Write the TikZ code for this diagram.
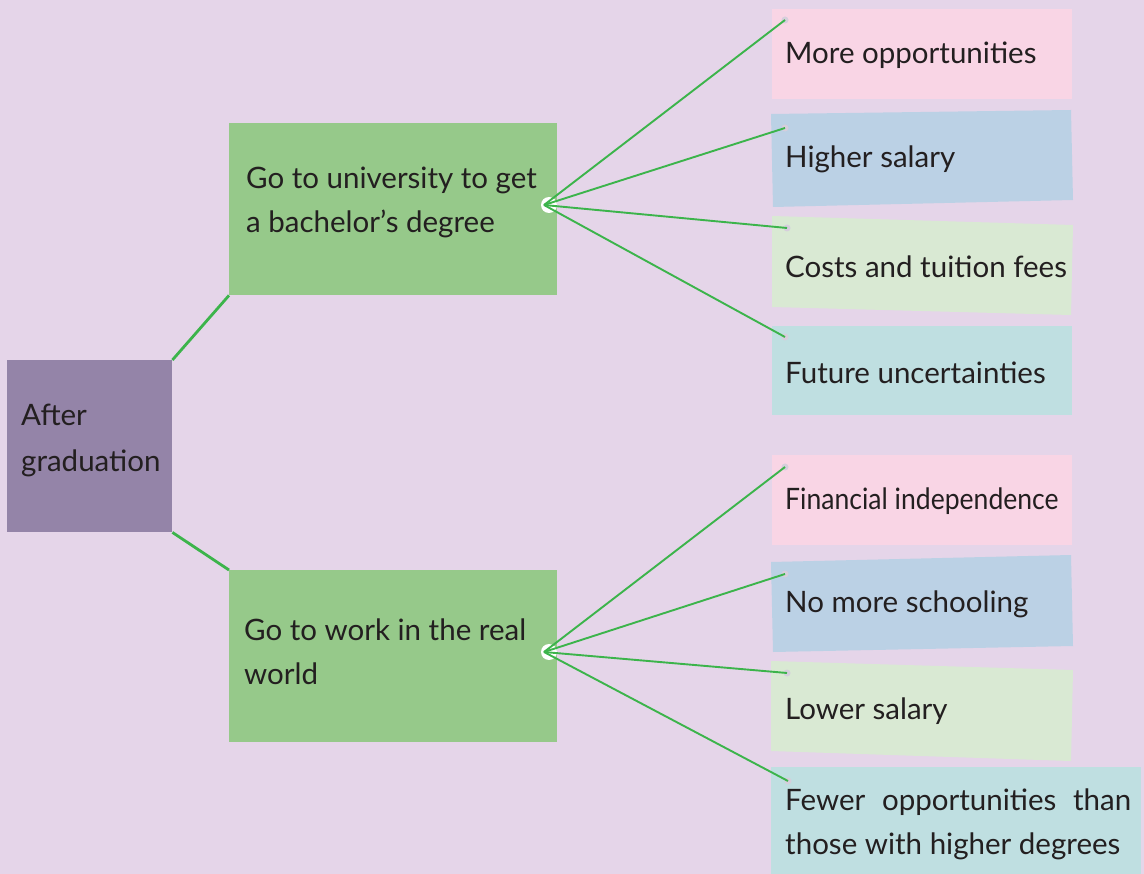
\documentclass[tikz,border=0pt]{standalone}
\usepackage{fontspec}
\setmainfont{Lato}
\definecolor{bgc}{HTML}{E5D5E9}
\definecolor{purp}{HTML}{9484A8}
\definecolor{grn}{HTML}{96C98A}
\definecolor{pinkc}{HTML}{F9D5E5}
\definecolor{bluec}{HTML}{BBD1E5}
\definecolor{lgrn}{HTML}{D9E9D3}
\definecolor{tealc}{HTML}{BFDFE1}
\definecolor{linec}{HTML}{3CB44B}
\definecolor{txt}{HTML}{231F20}
\definecolor{dotc}{HTML}{D6CEDC}
\tikzset{
  conn/.style={draw=linec, line width=1.9pt},
  thickconn/.style={draw=linec, line width=2.8pt},
  bigbox/.style={anchor=north west, inner sep=0, minimum width=#1},
  lbl/.style={anchor=west, inner sep=0, text=txt, font=\fontsize{29.5}{44}\selectfont, align=left},
  enddot/.style={circle, fill=dotc, inner sep=0, minimum size=7pt},
  hubring/.style={circle, fill=white, inner sep=0, minimum size=16pt}
}
\begin{document}
\begin{tikzpicture}[x=1pt,y=-1pt]
\fill[bgc] (0,0) rectangle (1144,874);
\useasboundingbox (0,0) rectangle (1144,874);
% left boxes
\node[bigbox=165pt, minimum height=172pt, fill=purp] (root) at (7,360) {};
\node[bigbox=328pt, minimum height=172pt, fill=grn] (g1) at (229,123) {};
\node[bigbox=328pt, minimum height=172pt, fill=grn] (g2) at (229,570) {};
\node[lbl, font=\fontsize{29.5}{46}\selectfont] (rootT) at (21,440) {After\\graduation};
\node[lbl] (g1T) at (246,202) {Go to university to get\\a bachelor’s degree};
\node[lbl] (g2T) at (244,652) {Go to work in the real\\world};
\draw[thickconn] (root.north east) -- (g1.south west);
\draw[thickconn] (root.south east) -- (g2.north west);
% right boxes
\fill[pinkc] (772,9) rectangle (1072,99);
\fill[bluec] (771,114) -- (1071,110) -- (1073,200) -- (773,207) -- cycle;
\fill[lgrn] (772,216) -- (1073,225) -- (1071,315) -- (772,307) -- cycle;
\fill[tealc] (772,326) rectangle (1072,415);
\fill[pinkc] (772,455) rectangle (1072,545);
\fill[bluec] (771,562) -- (1071,555) -- (1073,646) -- (773,652) -- cycle;
\fill[lgrn] (771,661) -- (1073,670) -- (1071,761) -- (771,751) -- cycle;
\fill[tealc] (771,767) rectangle (1141,874);
% texts
\node[lbl] (a1) at (785,55) {More opportunities};
\node[lbl] (a2) at (785,159) {Higher salary};
\node[lbl] (a3) at (785,267) {Costs and tuition fees};
\node[lbl] (a4) at (785,373) {Future uncertainties};
\node[lbl] (b1) at (785,501) {\scalebox{0.9}[1]{Financial independence}};
\node[lbl] (b2) at (785,604) {No more schooling};
\node[lbl] (b3) at (785,711) {Lower salary};
\node[lbl] (b4) at (785,824) {\makebox[346pt][s]{Fewer opportunities than}\\those with higher degrees};
% hubs and connectors
\coordinate (h1) at (544,205);
\coordinate (h2) at (544,652);
\node[hubring] (r1) at (549,205) {};
\node[hubring] (r2) at (549,652) {};
\node[enddot] (d1) at (785,20) {};
\node[enddot] (d2) at (785,128) {};
\node[enddot] (d3) at (787,228) {};
\node[enddot] (d4) at (785,337) {};
\node[enddot] (e1) at (785,467) {};
\node[enddot] (e2) at (785,574) {};
\node[enddot] (e3) at (787,673) {};
\node[enddot] (e4) at (788,781) {};
\foreach \d in {d1,d2,d3,d4} \draw[conn] (h1) -- (\d.center);
\foreach \e in {e1,e2,e3,e4} \draw[conn] (h2) -- (\e.center);
\end{tikzpicture}
\end{document}
